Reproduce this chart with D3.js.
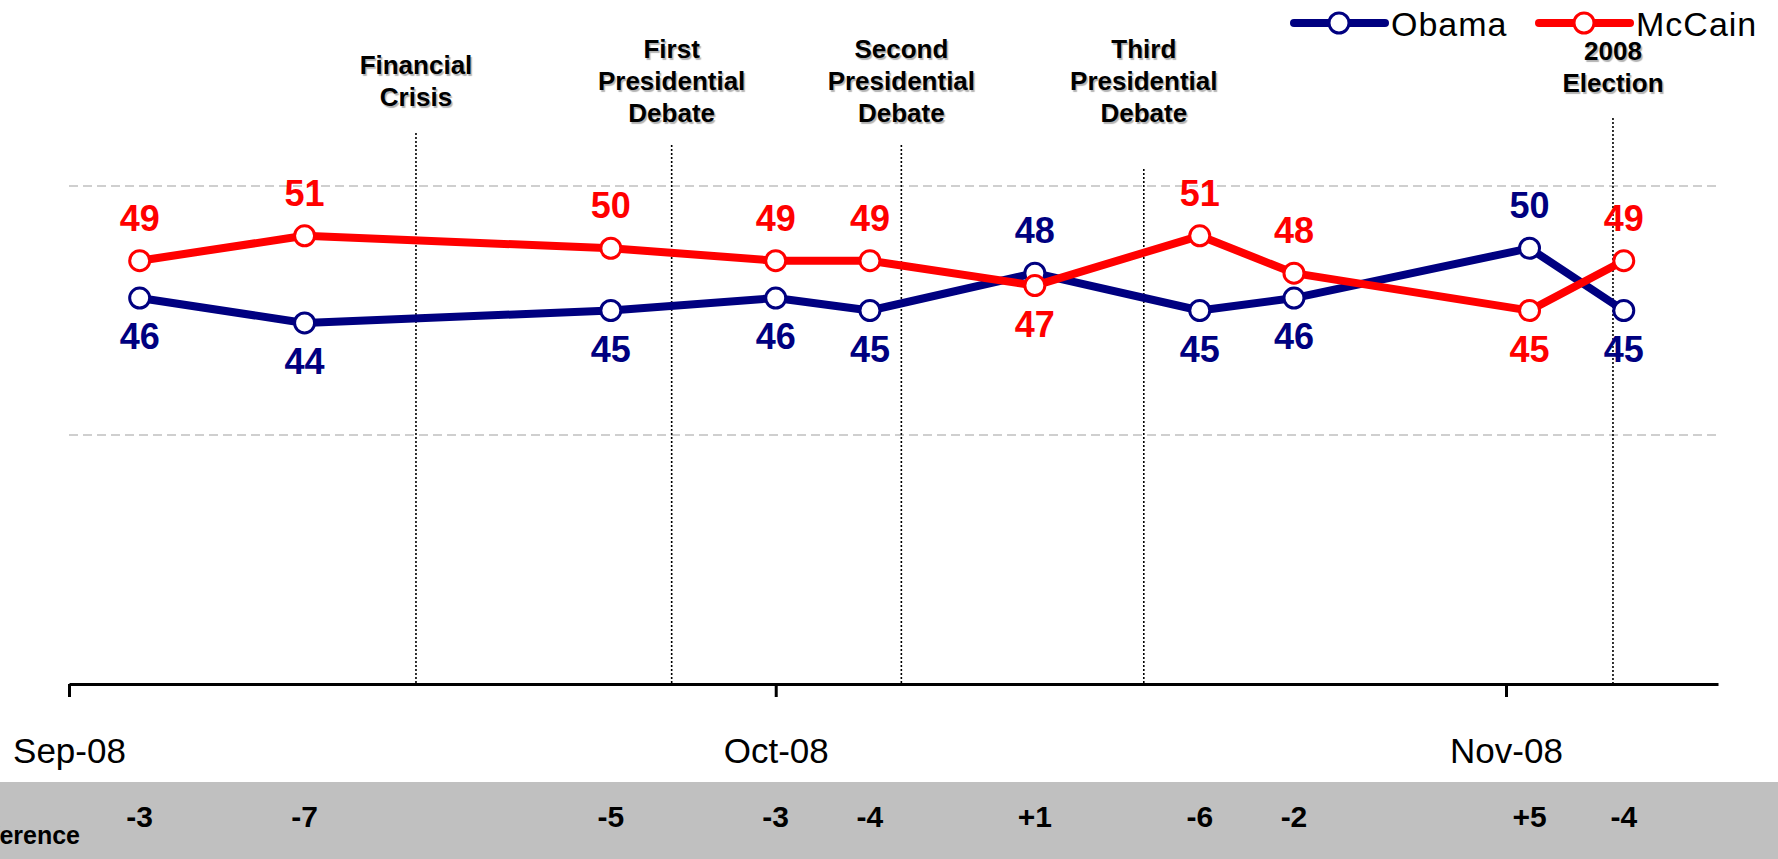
<!DOCTYPE html>
<html>
  <head>
    <meta charset="utf-8">
    <title>Obama vs McCain, 2008</title>
    <script src="https://cdn.jsdelivr.net/npm/d3@7"></script>
    <style>
      body { margin: 0; background: #fff; }
      svg { display: block; font-family: "Liberation Sans", Arial, sans-serif; }
      .event { font-size: 26px; font-weight: bold; text-anchor: middle; fill: #000; text-shadow: 1.5px 1.5px 1px rgba(0, 0, 0, 0.3); }
      .eventLine { stroke: #000; stroke-width: 1.6; stroke-dasharray: 2 2; }
      .grid { stroke: #c0c0c0; stroke-width: 1.5; stroke-dasharray: 9 5; }
      .value { font-size: 36px; font-weight: bold; text-anchor: middle; }
      .diff { font-size: 30px; font-weight: bold; text-anchor: middle; }
      .legend { font-size: 34px; letter-spacing: 1px; }
    </style>
  </head>
  <body>
    <svg id="chart" width="1778" height="859"></svg>
    <script>
      // poll results
      const dates = ["2008-09-04", "2008-09-11", "2008-09-24", "2008-10-01", "2008-10-05",
        "2008-10-12", "2008-10-19", "2008-10-23", "2008-11-02", "2008-11-06"];
      const obama = [46, 44, 45, 46, 45, 48, 45, 46, 50, 45];
      const mccain = [49, 51, 50, 49, 49, 47, 51, 48, 45, 49];
      // axis
      const monthTicks = ["2008-09-01", "2008-10-01", "2008-11-01"];
      const gridValues = [35, 55];
      // events (placed where the picture draws them)
      const eventDates = ["2008-09-15T17:30", "2008-09-26T14:00", "2008-10-06T08:00",
        "2008-10-16T15:00", "2008-11-05T13:00"];
      const eventLabels = [
        ["Financial", "Crisis"],
        ["First", "Presidential", "Debate"],
        ["Second", "Presidential", "Debate"],
        ["Third", "Presidential", "Debate"],
        ["2008", "Election"]
      ];
      const seriesNames = ["Obama", "McCain"];
      const seriesColors = ["#000080", "#ff0000"];

      const parseDay = d3.utcParse("%Y-%m-%d");
      const parseTime = d3.utcParse("%Y-%m-%dT%H:%M");

      // layout
      const margin = { left: 69, right: 60, top: 186, axis: 684 };
      const width = 1778;
      const chart = d3.select("#chart");

      const x = d3.scaleUtc()
        .domain([parseDay("2008-09-01"), parseDay("2008-11-10")])
        .range([margin.left, width - margin.right]);
      const y = d3.scaleLinear()
        .domain([15, 55])
        .range([margin.axis, margin.top]);

      // gridlines
      chart.append("g")
        .selectAll("line")
        .data(gridValues)
        .join("line")
          .attr("class", "grid")
          .attr("x1", x.range()[0])
          .attr("x2", x.range()[1])
          .attr("y1", d => y(d))
          .attr("y2", d => y(d));

      // event markers
      const eventLayout = [
        { labelY: 74, lineTop: 133 },
        { labelY: 58, lineTop: 145 },
        { labelY: 58, lineTop: 145 },
        { labelY: 58, lineTop: 169 },
        { labelY: 60, lineTop: 118 }
      ];
      const events = chart.append("g")
        .selectAll("g")
        .data(eventDates.map((d, i) => ({ date: parseTime(d), lines: eventLabels[i], layout: eventLayout[i] })))
        .join("g");
      events.append("line")
        .attr("class", "eventLine")
        .attr("x1", d => x(d.date))
        .attr("x2", d => x(d.date))
        .attr("y1", d => d.layout.lineTop)
        .attr("y2", margin.axis);
      events.append("text")
        .attr("class", "event")
        .attr("x", d => x(d.date))
        .attr("y", d => d.layout.labelY)
        .selectAll("tspan")
        .data(d => d.lines.map(l => ({ text: l, x: x(d.date) })))
        .join("tspan")
          .attr("x", d => d.x)
          .attr("dy", (d, i) => i ? 32 : 0)
          .text(d => d.text);

      // x axis
      const xAxis = d3.axisBottom(x)
        .tickValues(monthTicks.map(parseDay))
        .tickFormat(d3.utcFormat("%b-%y"))
        .tickSizeInner(13)
        .tickSizeOuter(0)
        .tickPadding(41);
      const xAxisGroup = chart.append("g")
        .attr("transform", "translate(0, " + margin.axis + ")")
        .call(xAxis);
      xAxisGroup.select(".domain")
        .attr("stroke-width", 3);
      xAxisGroup.selectAll(".tick line")
        .attr("stroke-width", 3);
      xAxisGroup.selectAll(".tick text")
        .attr("font-family", "'Liberation Sans', Arial, sans-serif")
        .attr("font-size", 35)
        .attr("fill", "#000");

      // series
      const series = [obama, mccain].map((values, s) => ({
        name: seriesNames[s],
        color: seriesColors[s],
        points: values.map((v, i) => ({
          date: parseDay(dates[i]),
          value: v,
          above: v > (s ? obama[i] : mccain[i])
        }))
      }));
      const line = d3.line()
        .x(d => x(d.date))
        .y(d => y(d.value));
      const seriesGroups = chart.append("g")
        .selectAll("g")
        .data(series)
        .join("g");
      seriesGroups.append("path")
        .attr("d", d => line(d.points))
        .attr("fill", "none")
        .attr("stroke", d => d.color)
        .attr("stroke-width", 8)
        .attr("stroke-linejoin", "round");
      seriesGroups.selectAll("circle")
        .data(d => d.points.map(p => ({ ...p, color: d.color })))
        .join("circle")
          .attr("cx", d => x(d.date))
          .attr("cy", d => y(d.value))
          .attr("r", 10)
          .attr("fill", "#fff")
          .attr("stroke", d => d.color)
          .attr("stroke-width", 3);

      // data labels
      chart.append("g")
        .selectAll("g")
        .data(series)
        .join("g")
        .selectAll("text")
        .data(d => d.points.map(p => ({ ...p, color: d.color })))
        .join("text")
          .attr("class", "value")
          .attr("x", d => x(d.date))
          .attr("y", d => y(d.value) + (d.above ? -30 : 51))
          .attr("fill", d => d.color)
          .text(d => d.value);

      // difference row
      chart.append("rect")
        .attr("x", 0)
        .attr("y", 782)
        .attr("width", width)
        .attr("height", 77)
        .attr("fill", "#c0c0c0");
      chart.append("text")
        .attr("x", 80)
        .attr("y", 844)
        .attr("text-anchor", "end")
        .attr("font-size", 25)
        .attr("font-weight", "bold")
        .text("Difference");
      chart.append("g")
        .selectAll("text")
        .data(dates.map((d, i) => ({ date: parseDay(d), diff: obama[i] - mccain[i] })))
        .join("text")
          .attr("class", "diff")
          .attr("x", d => x(d.date))
          .attr("y", 827)
          .text(d => (d.diff > 0 ? "+" : "") + d.diff);

      // legend
      const legend = chart.append("g")
        .selectAll("g")
        .data(series)
        .join("g")
          .attr("transform", (d, i) => "translate(" + (1294 + i * 245) + ", 23)");
      legend.append("line")
        .attr("x1", 0)
        .attr("x2", 91)
        .attr("stroke", d => d.color)
        .attr("stroke-width", 8)
        .attr("stroke-linecap", "round");
      legend.append("circle")
        .attr("cx", 45)
        .attr("r", 10)
        .attr("fill", "#fff")
        .attr("stroke", d => d.color)
        .attr("stroke-width", 3);
      legend.append("text")
        .attr("class", "legend")
        .attr("x", 97)
        .attr("y", 13)
        .text(d => d.name);
    </script>
  </body>
</html>
